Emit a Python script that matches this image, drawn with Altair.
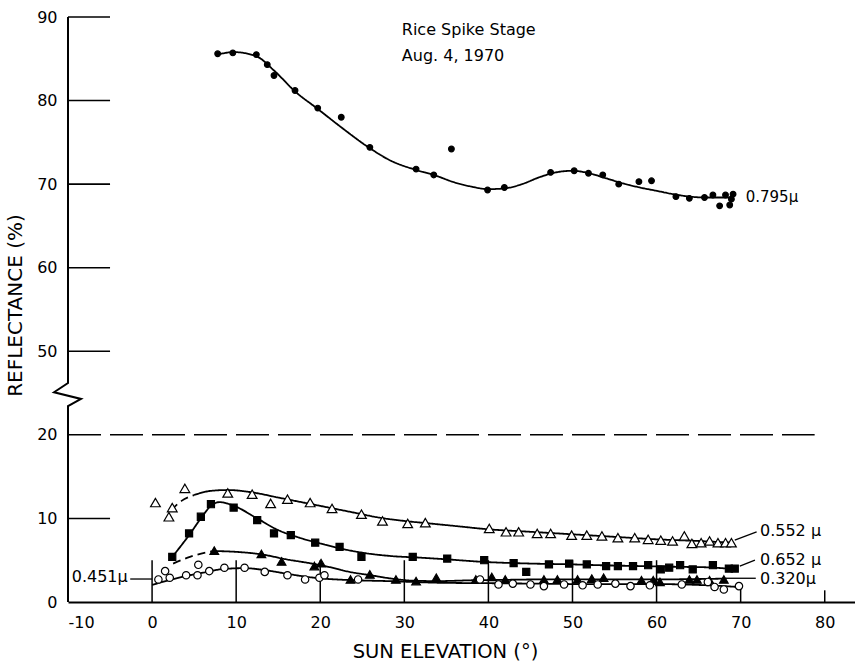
import altair as alt
import pandas as pd

# ---------------------------------------------------------------------------
# Measured reflectance points (sun elevation in degrees, reflectance in %)
# ---------------------------------------------------------------------------
elev_795 = [7.8, 9.6, 12.4, 13.7, 14.5, 17.0, 19.7, 22.5, 25.9, 31.4, 33.5, 35.6,
            39.9, 41.9, 47.4, 50.2, 51.9, 53.6, 55.5, 57.9, 59.4, 62.3, 63.9,
            65.7, 66.7, 68.2, 69.1, 67.5, 68.7, 68.9]
refl_795 = [85.6, 85.7, 85.5, 84.3, 83.0, 81.2, 79.1, 78.0, 74.4, 71.8, 71.1, 74.2,
            69.3, 69.6, 71.4, 71.6, 71.3, 71.1, 70.0, 70.3, 70.4, 68.5, 68.3,
            68.4, 68.7, 68.7, 68.8, 67.4, 67.5, 68.2]

elev_552 = [0.4, 2.0, 2.4, 3.9, 9.0, 11.9, 14.1, 16.1, 18.8, 21.4, 24.9, 27.4, 30.4,
            32.5, 40.1, 42.1, 43.6, 45.8, 47.4, 49.9, 51.7, 53.5, 55.4, 57.4, 59.0,
            60.5, 61.9, 63.3, 64.2, 65.3, 66.3, 67.3, 68.2, 68.9]
refl_552 = [11.9, 10.2, 11.3, 13.6, 13.05, 12.9, 11.8, 12.3, 11.9, 11.2, 10.5, 9.7, 9.4,
            9.5, 8.8, 8.4, 8.4, 8.2, 8.2, 8.0, 8.0, 7.9, 7.7, 7.7, 7.5,
            7.4, 7.3, 7.9, 7.0, 7.1, 7.3, 7.1, 7.1, 7.1]

elev_652 = [2.4, 4.4, 5.8, 7.0, 9.7, 12.5, 14.5, 16.5, 19.4, 22.3, 24.9, 31.0, 35.1,
            39.5, 43.0, 44.5, 47.2, 49.6, 51.7, 54.0, 55.4, 57.2, 59.0, 60.5, 61.5,
            62.8, 64.3, 66.7, 68.6, 69.3]
refl_652 = [5.4, 8.2, 10.2, 11.7, 11.3, 9.8, 8.2, 8.0, 7.1, 6.6, 5.4, 5.4, 5.2,
            5.0, 4.65, 3.6, 4.5, 4.6, 4.5, 4.3, 4.3, 4.3, 4.4, 3.9, 4.1,
            4.4, 3.9, 4.4, 4.0, 4.0]

elev_320 = [7.4, 13.0, 15.4, 19.3, 20.1, 23.6, 25.9, 29.0, 31.4, 33.8, 38.5, 40.4,
            42.0, 46.6, 48.2, 50.6, 52.3, 53.7, 58.2, 59.6, 60.4, 63.9, 64.8, 66.3, 68.0]
refl_320 = [6.15, 5.75, 4.85, 4.3, 4.65, 2.7, 3.3, 2.7, 2.5, 2.9, 2.7, 3.0,
            2.7, 2.7, 2.7, 2.7, 2.8, 2.9, 2.6, 2.6, 2.4, 2.7, 2.7, 2.6, 2.7]

elev_451 = [0.75, 1.55, 2.1, 4.05, 5.4, 5.5, 6.8, 8.6, 11.0, 13.4, 16.1, 18.2, 19.9,
            20.5, 24.5, 39.0, 41.2, 42.9, 45.0, 46.6, 49.0, 51.2, 53.0, 55.1, 56.9,
            59.2, 63.0, 66.1, 66.9, 68.0, 69.8]
refl_451 = [2.7, 3.7, 2.9, 3.2, 3.2, 4.45, 3.7, 4.1, 4.1, 3.6, 3.2, 2.7, 2.9,
            3.2, 2.7, 2.7, 2.1, 2.2, 2.1, 1.9, 2.1, 2.0, 2.1, 2.2, 1.9,
            2.0, 2.1, 2.4, 1.8, 1.5, 1.9]

# ---------------------------------------------------------------------------
# Hand-fitted curves: (band, style, elevations, reflectances)
# ---------------------------------------------------------------------------
curve_segments = [
    ("0.795", "solid",
     [7.8, 9.7, 12.4, 14.5, 17.0, 19.7, 22.5, 25.9, 28.4, 31.4, 33.5, 36, 38, 40, 42,
      44, 46, 48, 50, 52, 54, 56, 58, 60, 62, 64, 66, 68, 69.2],
     [85.5, 85.8, 85.3, 83.6, 81.1, 79.0, 76.8, 74.3, 72.8, 71.7, 71.1, 70.2, 69.7, 69.4,
      69.5, 70.0, 70.8, 71.4, 71.6, 71.3, 70.7, 70.1, 69.6, 69.2, 68.8, 68.5, 68.4,
      68.4, 68.4]),
    ("0.552", "dashed", [2.3, 3.5, 5.0], [11.0, 12.1, 12.8]),
    ("0.552", "solid",
     [5.0, 7, 9, 12, 15, 18, 21, 24, 27, 30, 33, 36, 40, 45, 50, 55, 60, 65, 69],
     [12.8, 13.3, 13.4, 13.1, 12.5, 11.9, 11.3, 10.7, 10.1, 9.7, 9.4, 9.1, 8.7, 8.4,
      8.1, 7.8, 7.5, 7.3, 7.1]),
    ("0.652", "solid",
     [2.4, 4.4, 5.8, 7.0, 8.0, 9.5, 12.5, 15, 17.5, 20, 22.4, 25, 28.4, 32, 35.1, 39.4,
      45, 50, 53.3, 58, 63, 66, 69.5],
     [5.4, 8.0, 10.0, 11.5, 11.95, 11.6, 10.0, 8.6, 7.7, 7.0, 6.4, 5.9, 5.5, 5.3, 5.1,
      4.8, 4.6, 4.5, 4.4, 4.3, 4.2, 4.15, 3.9]),
    ("0.320", "dashed", [2.5, 4.5, 7.3], [4.6, 5.4, 6.1]),
    ("0.320", "solid",
     [7.3, 10, 13, 16, 19, 21, 23.5, 26, 28.5, 31, 34, 38, 42, 46, 50, 55, 60, 65, 68.3],
     [6.1, 6.0, 5.7, 5.1, 4.6, 4.2, 3.6, 3.2, 2.8, 2.55, 2.5, 2.6, 2.65, 2.7, 2.7,
      2.7, 2.7, 2.75, 2.8]),
    ("0.451", "solid",
     [0, 2, 4, 6, 8.5, 11, 13.5, 16.2, 18.5, 20.4, 24.3, 28, 31, 34.2, 40, 45, 50, 55,
      60, 63, 66, 69.7],
     [2.05, 2.6, 3.1, 3.5, 3.95, 4.05, 3.8, 3.35, 3.0, 2.8, 2.6, 2.5, 2.4, 2.3, 2.25,
      2.2, 2.15, 2.15, 2.15, 2.1, 2.0, 1.8]),
]

# Series labels (text, elevation, reflectance, alignment, font size)
label_text = ["0.795\u03bc", "0.552 \u03bc", "0.652 \u03bc", "0.320\u03bc", "0.451\u03bc"]
label_elev = [70.6, 72.3, 72.3, 72.3, -2.9]
label_refl = [68.46, 8.53, 5.03, 2.75, 2.96]
label_align = ["left", "left", "left", "left", "right"]
label_size = [15, 16, 16, 16, 16]

# Leader lines from curve ends to their labels
leader_x1 = [69.3, 69.9, 68.2, -2.6]
leader_x2 = [71.9, 71.7, 71.8, 0.0]
leader_y1 = [7.4, 4.3, 2.84, 2.75]
leader_y2 = [8.4, 5.0, 2.84, 2.75]

title_lines = ["Rice Spike Stage", "Aug. 4, 1970"]
title_refl = [88.45, 85.3]
title_elev = 29.7

# Axis values
x_min, x_max = -10, 83.6
x_tick_values = [-10, 0, 10, 20, 30, 40, 50, 60, 70, 80]
x_inner_ticks = [0, 10, 20, 30, 40, 50, 60, 70, 80]
x_inner_tick_len = [5, 5, 5, 5, 5, 5, 5, 2, 1.4]
y_inner_ticks = [10, 50, 60, 70, 80, 90]
y_inner_tick_len = 5
ref_level = 20
ref_end = 78.8

# The reflectance axis is broken between 20 and 50 %; readings above the
# break are drawn 20 units lower so both parts share one linear scale.
BREAK_SHIFT = 20
BREAK_SPLIT = 35
Y_EXPR = f"datum.refl > {BREAK_SPLIT} ? datum.refl - {BREAK_SHIFT} : datum.refl"

FONT = "DejaVu Sans"
xs = alt.Scale(domain=[x_min, x_max], nice=False, zero=False)
ys = alt.Scale(domain=[0, 70], nice=False, zero=False)

# ---------------------------------------------------------------------------
# Tables
# ---------------------------------------------------------------------------
series = {
    "0.795": (elev_795, refl_795),
    "0.552": (elev_552, refl_552),
    "0.652": (elev_652, refl_652),
    "0.320": (elev_320, refl_320),
    "0.451": (elev_451, refl_451),
}

cv_rows = []
for i, (band, style, el, rf) in enumerate(curve_segments):
    cv_rows += [{"seg": i, "band": band, "style": style, "order": k, "elev": e, "refl": r}
                for k, (e, r) in enumerate(zip(el, rf))]
curves = pd.DataFrame(cv_rows)

labels = pd.DataFrame({"text": label_text, "elev": label_elev, "refl": label_refl,
                       "align": label_align, "size": label_size})
leaders = pd.DataFrame({"elev": leader_x1, "x2": leader_x2, "refl": leader_y1, "y2": leader_y2})
titles = pd.DataFrame({"text": title_lines, "refl": title_refl,
                       "elev": [title_elev] * len(title_lines)})
xticks = pd.DataFrame({"elev": x_inner_ticks, "refl": 0.0, "top": x_inner_tick_len})
yticks = pd.DataFrame({"refl": y_inner_ticks, "elev": float(x_min),
                       "x2": float(x_min + y_inner_tick_len)})
refline = pd.DataFrame({"refl": [ref_level], "elev": [float(x_min)], "x2": [ref_end]})

# Vertical axis line with a zig-zag break symbol (in plotted units)
axis_line = pd.DataFrame({
    "order": [0, 1, 2, 3, 4, 5],
    "elev": [-10, -10, -8.45, -11.66, -10, -10],
    "yv": [0, 23.45, 24.3, 25.1, 26.2, 70],
})

# ---------------------------------------------------------------------------
# Shared encodings; the axes are declared once, on the curve layer
# ---------------------------------------------------------------------------
x_axis = alt.Axis(values=x_tick_values, ticks=False, grid=False, domain=True,
                  domainColor="black", domainWidth=2, labelFont=FONT, labelFontSize=16,
                  labelColor="black", labelPadding=12,
                  labelExpr="datum.value < 0 ? '-' + abs(datum.value) : datum.label",
                  title="SUN ELEVATION (\u00b0)",
                  titleFont=FONT, titleFontSize=19.5, titleFontWeight="normal",
                  titleColor="black", titleX=377, titleY=40, titleBaseline="top")
y_axis = alt.Axis(values=[0, 10, 20, 30, 40, 50, 60, 70], ticks=False, grid=False,
                  domain=False, labelFont=FONT, labelFontSize=16, labelColor="black",
                  labelPadding=11,
                  labelExpr=f"datum.value > 25 ? datum.value + {BREAK_SHIFT} : datum.value",
                  title="REFLECTANCE (%)", titleFont=FONT, titleFontSize=20,
                  titleFontWeight="normal", titleColor="black", titleX=-43, titleY=288)

X = alt.X("elev:Q", scale=xs)
Y = alt.Y("yv:Q", scale=ys)

curve_layer = alt.Chart(curves).transform_calculate(yv=Y_EXPR).mark_line(
    color="black", strokeWidth=1.8, interpolate="monotone"
).encode(
    x=alt.X("elev:Q", scale=xs, axis=x_axis),
    y=alt.Y("yv:Q", scale=ys, axis=y_axis),
    detail="seg:N",
    order="order:Q",
    strokeDash=alt.StrokeDash("style:N", legend=None,
                              scale=alt.Scale(domain=["solid", "dashed"],
                                              range=[[1, 0], [8, 5]])),
)


def point_layer(band, shape, fill, size):
    el, rf = series[band]
    df = pd.DataFrame({"elev": el, "refl": rf})
    return alt.Chart(df).transform_calculate(yv=Y_EXPR).mark_point(
        shape=shape, filled=True, fill=fill, stroke="black", strokeWidth=1.2,
        size=size, opacity=1
    ).encode(x=X, y=Y)


point_layers = [
    point_layer("0.795", "circle", "black", 32),
    point_layer("0.552", "triangle-up", "white", 95),
    point_layer("0.652", "square", "black", 50),
    point_layer("0.320", "triangle-up", "black", 75),
    point_layer("0.451", "circle", "white", 55),
]

ref_layer = alt.Chart(refline).transform_calculate(yv=Y_EXPR).mark_rule(
    color="black", strokeWidth=1.5, strokeDash=[33, 9]
).encode(x=X, x2="x2:Q", y=Y)

axis_layer = alt.Chart(axis_line).mark_line(color="black", strokeWidth=2).encode(
    x=X, y=Y, order="order:Q",
)

ytick_layer = alt.Chart(yticks).transform_calculate(yv=Y_EXPR).mark_rule(
    color="black", strokeWidth=1.6
).encode(x=X, x2="x2:Q", y=Y)

xtick_layer = alt.Chart(xticks).transform_calculate(yv=Y_EXPR).mark_rule(
    color="black", strokeWidth=1.5
).encode(x=X, y=Y, y2="top:Q")

leader_layer = alt.Chart(leaders).transform_calculate(yv=Y_EXPR).mark_rule(
    color="black", strokeWidth=1.3
).encode(x=X, x2="x2:Q", y=Y, y2="y2:Q")


def label_layer(align):
    return alt.Chart(labels).transform_filter(
        alt.datum.align == align
    ).transform_calculate(yv=Y_EXPR).mark_text(
        font=FONT, baseline="middle", color="black", align=align
    ).encode(
        x=X, y=Y, text="text:N",
        size=alt.Size("size:Q", legend=None, scale=None),
    )


title_layer = alt.Chart(titles).transform_calculate(yv=Y_EXPR).mark_text(
    font=FONT, fontSize=16, align="left", baseline="middle", color="black"
).encode(x=X, y=Y, text="text:N")

chart = alt.layer(
    curve_layer, ref_layer, axis_layer, ytick_layer, xtick_layer, leader_layer,
    *point_layers, label_layer("left"), label_layer("right"), title_layer,
).properties(
    width=787, height=585,
    padding={"left": 68, "top": 17, "right": 0, "bottom": 61},
    autosize=alt.AutoSizeParams(type="none"),
    background="white",
).configure_view(stroke=None)

chart.save("out.html", embed_options={"renderer": "svg", "actions": False})
